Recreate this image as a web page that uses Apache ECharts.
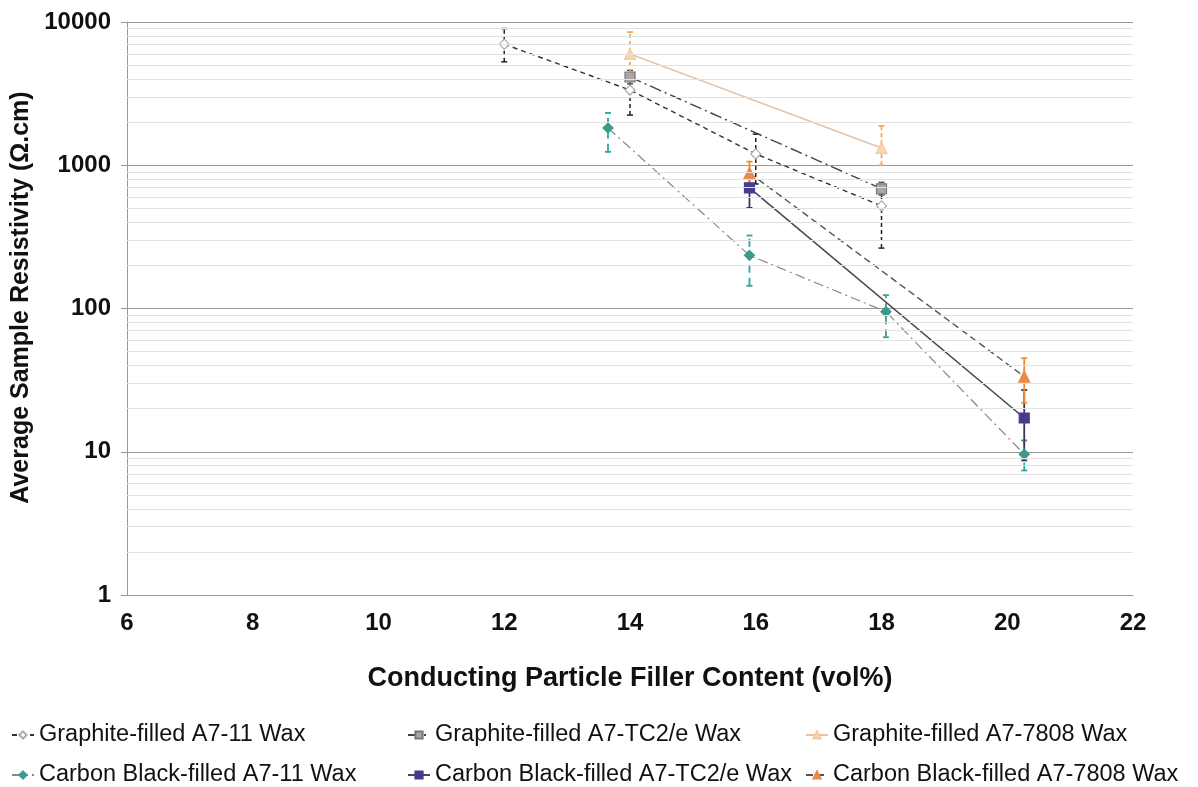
<!DOCTYPE html>
<html>
<head>
<meta charset="utf-8">
<script src="https://cdn.jsdelivr.net/npm/echarts@6/dist/echarts.min.js"></script>
<style>
  html, body { margin: 0; padding: 0; background: #fff; }
  #chart { width: 1198px; height: 787px; }
</style>
</head>
<body>
<div id="chart"></div>
<script>
// series names
var names = [
  'Graphite-filled A7-11 Wax',
  'Graphite-filled A7-TC2/e Wax',
  'Graphite-filled A7-7808 Wax',
  'Carbon Black-filled A7-11 Wax',
  'Carbon Black-filled A7-TC2/e Wax',
  'Carbon Black-filled A7-7808 Wax'
]

// filler content (vol%)
var gA711X = [12, 14, 16, 18]
var gTC2X = [14, 18]
var g7808X = [14, 18]
var cbA711X = [13.65, 15.9, 18.07, 20.27]
var cbTC2X = [15.9, 20.27]
var cb7808X = [15.9, 20.27]

// resistivity (ohm.cm)
var gA711Y = [7000, 3350, 1200, 520]
var gTC2Y = [4130, 685]
var g7808Y = [5980, 1320]
var cbA711Y = [1820, 235, 95, 9.6]
var cbTC2Y = [695, 17.2]
var cb7808Y = [885, 33.5]

// error bar low / high
var gA711Lo = [5270, 2240, 740, 264]
var gA711Hi = [9000, 4100, 1650, 700]
var gTC2Lo = [3700, 620]
var gTC2Hi = [4600, 760]
var g7808Lo = [4400, 1000]
var g7808Hi = [8500, 1880]
var cbA711Lo = [1240, 144, 63, 7.4]
var cbA711Hi = [2320, 323, 124, 12]
var cbTC2Lo = [504, 8.7]
var cbTC2Hi = [880, 27]
var cb7808Lo = [700, 22]
var cb7808Hi = [1060, 45]

// minor grid values for log axis
var minorGrid = [2,3,4,5,6,7,8,9,20,30,40,50,60,70,80,90,200,300,400,500,600,700,800,900,2000,3000,4000,5000,6000,7000,8000,9000]

function pairs(xs, ys) {
  return xs.map(function (x, i) { return [x, ys[i]] })
}
function triples(xs, lo, hi) {
  return xs.map(function (x, i) { return [x, lo[i], hi[i]] })
}

function errSeries(name, xs, lo, hi, color, dash, width) {
  return {
    name: name + ' err',
    type: 'custom',
    silent: true,
    z: 1,
    encode: { x: 0, y: [1, 2] },
    data: triples(xs, lo, hi),
    renderItem: function (params, api) {
      var x = api.value(0)
      var a = api.coord([x, api.value(1)])
      var b = api.coord([x, api.value(2)])
      var style = { stroke: color, lineWidth: width, lineDash: dash }
      return {
        type: 'group',
        children: [
          { type: 'line', shape: { x1: a[0], y1: a[1], x2: b[0], y2: b[1] }, style: style },
          { type: 'line', shape: { x1: a[0] - 3, y1: a[1], x2: a[0] + 3, y2: a[1] }, style: { stroke: color, lineWidth: width } },
          { type: 'line', shape: { x1: b[0] - 3, y1: b[1], x2: b[0] + 3, y2: b[1] }, style: { stroke: color, lineWidth: width } }
        ]
      }
    }
  }
}

function lineSeries(name, xs, ys, lineColor, lineType, lineWidth, symbol, symSize, fill, border) {
  return {
    name: name,
    type: 'line',
    z: 3,
    data: pairs(xs, ys),
    symbol: symbol,
    symbolSize: symSize,
    lineStyle: { color: lineColor, type: lineType, width: lineWidth },
    itemStyle: { color: fill, borderColor: border, borderWidth: 1.2 }
  }
}

var chart = echarts.init(document.getElementById('chart'))

var font = 'Liberation Sans, Arial, sans-serif'
var legendText = { fontFamily: font, fontSize: 23.5, color: '#111' }
var legendBase = { orient: 'vertical', top: 723, padding: 0, itemGap: 16, itemWidth: 22, itemHeight: 9, textStyle: legendText }

chart.setOption({
  animation: false,
  backgroundColor: '#fff',
  grid: { left: 127, right: 65, top: 22, bottom: 192, outerBoundsMode: 'none' },
  legend: [
    Object.assign({ data: [names[0], names[3]], left: 11 }, legendBase),
    Object.assign({ data: [names[1], names[4]], left: 407 }, legendBase),
    Object.assign({ data: [names[2], names[5]], left: 805 }, legendBase)
  ],
  xAxis: {
    type: 'value',
    min: 6,
    max: 22,
    interval: 2,
    name: 'Conducting Particle Filler Content (vol%)',
    nameLocation: 'middle',
    nameGap: 70,
    nameTextStyle: { fontFamily: font, fontSize: 27, fontWeight: 'bold', color: '#111' },
    axisLine: { onZero: false, lineStyle: { color: '#999', width: 1 } },
    axisTick: { show: false },
    axisLabel: { margin: 16, fontFamily: font, fontSize: 24, fontWeight: 'bold', color: '#111' },
    splitLine: { show: false }
  },
  yAxis: {
    type: 'log',
    logBase: 10,
    min: 1,
    max: 10000,
    name: 'Average Sample Resistivity (Ω.cm)',
    nameLocation: 'middle',
    nameGap: 74,
    nameTextStyle: { fontFamily: font, fontSize: 25, fontWeight: 'bold', color: '#111', padding: [0, 0, 0, 22] },
    axisLine: { show: true, lineStyle: { color: '#999', width: 1 } },
    axisTick: { show: true, length: 6, inside: false, lineStyle: { color: '#999' } },
    axisLabel: {
      margin: 16,
      fontFamily: font,
      fontSize: 24,
      fontWeight: 'bold',
      color: '#111',
      formatter: function (v) { return String(Math.round(v)) }
    },
    splitLine: { show: true, lineStyle: { color: '#9a9a9a', width: 1 } },
    minorTick: { show: false },
    minorSplitLine: { show: false }
  },
  series: [
    {
      name: 'minor grid',
      type: 'line',
      data: [],
      silent: true,
      z: 0,
      markLine: {
        silent: true,
        symbol: 'none',
        label: { show: false },
        lineStyle: { color: '#e2e2e2', type: 'solid', width: 1 },
        data: minorGrid.map(function (v) { return { yAxis: v } })
      }
    },
    errSeries(names[0], gA711X, gA711Lo, gA711Hi, '#222', [4, 3], 1.5),
    errSeries(names[1], gTC2X, gTC2Lo, gTC2Hi, '#555', [4, 3], 1.5),
    errSeries(names[2], g7808X, g7808Lo, g7808Hi, '#f4a857', [4, 3], 1.8),
    errSeries(names[3], cbA711X, cbA711Lo, cbA711Hi, '#2aa89c', [8, 5], 1.8),
    errSeries(names[4], cbTC2X, cbTC2Lo, cbTC2Hi, '#3a3550', null, 1.8),
    errSeries(names[5], cb7808X, cb7808Lo, cb7808Hi, '#ee8a34', null, 1.8),
    lineSeries(names[0], gA711X, gA711Y, '#333', [5, 4], 1.4, 'diamond', 10, '#fff', '#aaa'),
    lineSeries(names[1], gTC2X, gTC2Y, '#444', [12, 4, 2, 4], 1.4, 'rect', 10, '#a8a8a8', '#777'),
    lineSeries(names[2], g7808X, g7808Y, '#e8c2a4', 'solid', 1.4, 'triangle', 11, '#fbd5b0', '#f6c99c'),
    lineSeries(names[3], cbA711X, cbA711Y, '#888', [10, 4, 2, 4], 1.2, 'diamond', 10, '#3a9a8c', '#3a9a8c'),
    lineSeries(names[4], cbTC2X, cbTC2Y, '#4a4a4a', 'solid', 1.6, 'rect', 10, '#4a3a8c', '#4a3a8c'),
    lineSeries(names[5], cb7808X, cb7808Y, '#555', [7, 4], 1.4, 'triangle', 11, '#e98c4a', '#e98c4a')
  ]
})
</script>
</body>
</html>
